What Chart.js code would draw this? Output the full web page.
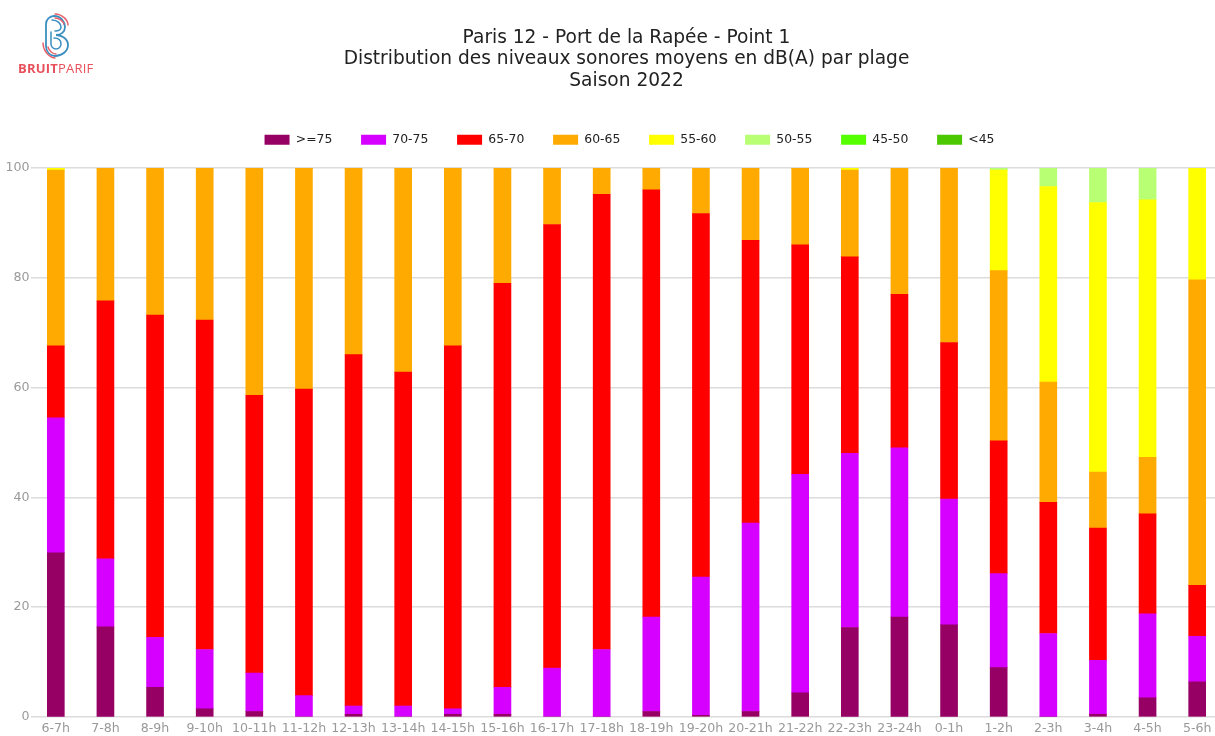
<!DOCTYPE html>
<html>
<head>
<meta charset="utf-8">
<title>Paris 12 - Port de la Rapée - Point 1</title>
<script src="https://cdn.jsdelivr.net/npm/chart.js@4"></script>
<style>
  html, body { margin: 0; padding: 0; background: #fff; width: 1215px; height: 736px; overflow: hidden; }
  #wrap { position: relative; width: 1215px; height: 736px; overflow: hidden; }
  #chart { position: absolute; left: 0; top: 0; }
  #logo { position: absolute; left: 18px; top: 12px; width: 76px; height: 50px; }
  #logoText { position: absolute; left: 18px; top: 59px; font: 13px "Open Sans", "Noto Sans", sans-serif; letter-spacing: 0.2px; color: #e8505b; }
  #logoText b { font-weight: 700; }
</style>
</head>
<body>
<div id="wrap">
  <canvas id="chart" width="1222" height="736"></canvas>
  <svg id="logo" viewBox="0 0 76 50" fill="none" stroke-linecap="round">
    <path d="M28 30 V12 A8 8 0 0 1 36 4 C43 4 47 10 47 15 C47 20 43 23 38 23 C44 23 50 27 50 33 C50 39 44 44 37 44 C32 44 28 40 28 34 Z" stroke="#3b8fc0" stroke-width="1.8"/>
    <path d="M33 20 V32 A5 5 0 0 0 43 32 C43 28 40 26 36 26 M34 8 C40 8 43 12 43 15 C43 18 40 19 37 19" stroke="#3b8fc0" stroke-width="1.5"/>
    <path d="M37 2 C44 2 50 8 50 13 M37 6 C41 6 45 9 46 12" stroke="#e8606a" stroke-width="1.4"/>
    <path d="M25 31 C25 38 30 45 37 46 M30 35 C31 39 35 42 38 42" stroke="#e8606a" stroke-width="1.4"/>
  </svg>
  <div id="logoText"><b>BRUIT</b>PARIF</div>
</div>
<script>
const categories = ['6-7h', '7-8h', '8-9h', '9-10h', '10-11h', '11-12h', '12-13h', '13-14h', '14-15h', '15-16h', '16-17h', '17-18h',
  '18-19h', '19-20h', '20-21h', '21-22h', '22-23h', '23-24h', '0-1h', '1-2h', '2-3h', '3-4h', '4-5h', '5-6h'];

const over75 = [29.9, 16.4, 5.4, 1.5, 1, 0, 0.5, 0, 0.5, 0.5, 0, 0, 1, 0.3, 1, 4.4, 16.3, 18.2, 16.8, 9, 0, 0.5, 3.5, 6.4];
const s70_75 = [24.6, 12.4, 9.1, 10.8, 7, 3.9, 1.5, 2, 1, 4.9, 8.9, 12.3, 17.2, 25.2, 34.3, 39.8, 31.7, 30.8, 22.9, 17.1, 15.2, 9.8, 15.3, 8.3];
const s65_70 = [13.1, 47, 58.7, 60, 50.6, 55.8, 64, 60.8, 66.1, 73.6, 80.8, 82.9, 77.8, 66.2, 51.5, 41.8, 35.8, 28, 28.5, 24.2, 23.9, 24.1, 18.2, 9.3];
const s60_65 = [32, 24.2, 26.8, 27.7, 41.4, 40.3, 34, 37.2, 32.4, 21, 10.3, 4.8, 4, 8.3, 13.2, 14, 15.8, 23, 31.8, 31, 21.9, 10.2, 10.3, 55.6];
const s55_60 = [0.4, 0, 0, 0, 0, 0, 0, 0, 0, 0, 0, 0, 0, 0, 0, 0, 0.4, 0, 0, 18.3, 35.6, 49.1, 46.9, 20.4];
const s50_55 = [0, 0, 0, 0, 0, 0, 0, 0, 0, 0, 0, 0, 0, 0, 0, 0, 0, 0, 0, 0.4, 3.4, 6.3, 5.8, 0];
const s45_50 = [0, 0, 0, 0, 0, 0, 0, 0, 0, 0, 0, 0, 0, 0, 0, 0, 0, 0, 0, 0, 0, 0, 0, 0];
const under45 = [0, 0, 0, 0, 0, 0, 0, 0, 0, 0, 0, 0, 0, 0, 0, 0, 0, 0, 0, 0, 0, 0, 0, 0];

const seriesLabels = ['>=75', '70-75', '65-70', '60-65', '55-60', '50-55', '45-50', '<45'];
const seriesColors = ['#960064', '#d500ff', '#ff0000', '#ffaa00', '#ffff00', '#b9ff73', '#55ff00', '#4cc800'];
const seriesValues = [over75, s70_75, s65_70, s60_65, s55_60, s50_55, s45_50, under45];

const titleLines = ['Paris 12 - Port de la Rapée - Point 1', 'Distribution des niveaux sonores moyens en dB(A) par plage', 'Saison 2022'];

const fontFamily = '"DejaVu Sans", sans-serif';

// more room under the legend, and nudge it a little right of the title
const legendSpacing = {
  id: 'legendSpacing',
  beforeInit(chart) {
    const fit = chart.legend.fit;
    chart.legend.fit = function () {
      fit.call(this);
      this.height += 12;
    };
  },
  afterLayout(chart) {
    chart.legend.left += 3;
    chart.legend.right += 3;
  },
};

new Chart(document.getElementById('chart').getContext('2d'), {
  type: 'bar',
  plugins: [legendSpacing],
  data: {
    labels: categories,
    datasets: seriesLabels.map((label, i) => ({
      label,
      data: seriesValues[i],
      backgroundColor: seriesColors[i],
      borderWidth: 0,
      barThickness: 17,
    })),
  },
  options: {
    responsive: false,
    animation: false,
    plugins: {
      title: {
        display: true,
        text: titleLines,
        color: '#222',
        fullSize: false,
        font: { family: fontFamily, size: 18.6, weight: 'normal', lineHeight: 1.16 },
        padding: { top: 27, bottom: 13 },
      },
      legend: {
        fullSize: false,
        labels: {
          color: '#222',
          boxWidth: 25,
          boxHeight: 10,
          padding: 28.8,
          font: { family: fontFamily, size: 12.4 },
        },
      },
      tooltip: { enabled: false },
    },
    scales: {
      x: {
        stacked: true,
        grid: { display: false, drawTicks: false },
        border: { display: false },
        ticks: { color: '#999', maxRotation: 0, autoSkip: false, padding: 4, font: { family: fontFamily, size: 12.6 } },
        afterFit: (scale) => { scale.height = 19; },
      },
      y: {
        stacked: true,
        min: 0,
        max: 100,
        grid: { color: '#dcdcdc', lineWidth: 1.4, drawTicks: false },
        border: { display: false },
        ticks: { stepSize: 20, color: '#999', padding: 1.5, font: { family: fontFamily, size: 12.6 } },
        afterFit: (scale) => { scale.width = 31; },
      },
    },
  },
});
</script>
</body>
</html>
